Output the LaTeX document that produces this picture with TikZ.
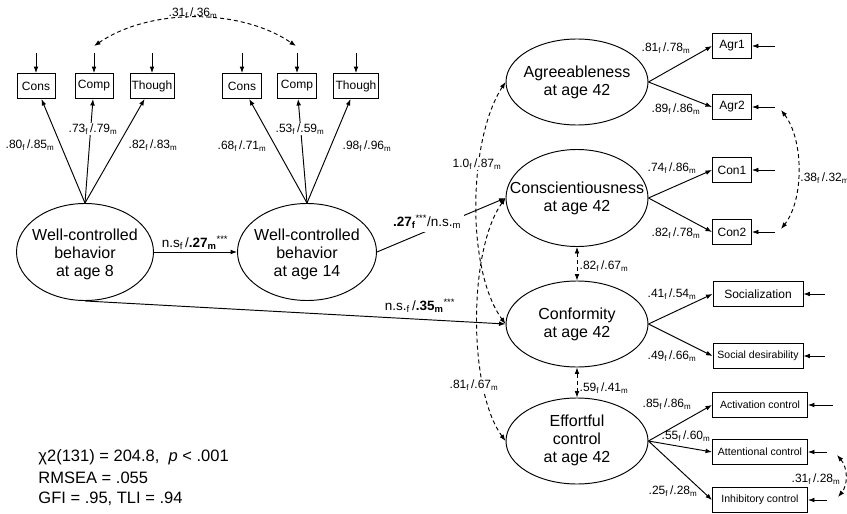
\documentclass[tikz,border=0pt]{standalone}
\usepackage{fontspec}
\setmainfont{Liberation Sans}
\usetikzlibrary{shapes.geometric,arrows.meta}
\newcommand\lfm[2]{#1\textsubscript{f}\,/#2\textsubscript{m}}
\begin{document}
\begin{tikzpicture}[x=1pt,y=-1pt,line width=0.95pt,
  >={Latex[length=6.5pt,width=4.8pt]},
  ell/.style={draw, ellipse, inner sep=0pt, minimum width=142pt, minimum height=86pt},
  elltext/.style={align=center, font=\fontsize{16}{18}\selectfont, inner sep=0pt},
  ind/.style={draw, rectangle, inner sep=0pt, minimum height=25pt, font=\fontsize{12}{14}\selectfont},
  indsm/.style={ind, font=\fontsize{10.5}{12}\selectfont},
  lab/.style={font=\fontsize{12}{14}\selectfont, inner sep=1pt},
  wlab/.style={lab, fill=white},
  plab/.style={font=\fontsize{13.5}{15}\selectfont, inner sep=1pt},
  cor/.style={<->, dash pattern=on 4pt off 3pt},
  stat/.style={font=\fontsize{16.5}{20}\selectfont, inner sep=0pt, anchor=base west}]
\useasboundingbox (0,0) rectangle (847,514);

% latent ellipses
\node[ell, minimum width=137pt, minimum height=97pt] (w8) at (85,252) {};
\node[elltext] (w8t) at (85,254) {Well-controlled\\behavior\\at age 8};
\node[ell, minimum width=139pt, minimum height=97pt] (w14) at (307,252) {};
\node[elltext] (w14t) at (307,254) {Well-controlled\\behavior\\at age 14};
\node[ell] (agr) at (577,82) {};
\node[elltext] (agrt) at (577,82) {Agreeableness\\at age 42};
\node[ell, minimum height=97pt] (consc) at (577,198) {};
\node[elltext] (consct) at (577,198) {Conscientiousness\\at age 42};
\node[ell] (conf) at (577,324) {};
\node[elltext] (conft) at (577,324) {Conformity\\at age 42};
\node[ell] (eff) at (577,441) {};
\node[elltext] (efft) at (577,440) {Effortful\\control\\at age 42};

% indicators top
\node[ind, minimum width=38pt] (cons1) at (36,86) {Cons};
\node[ind, minimum width=38pt] (comp1) at (94,86) {Comp};
\node[ind, minimum width=44pt] (though1) at (152,86) {Though};
\node[ind, minimum width=39pt] (cons2) at (242,86) {Cons};
\node[ind, minimum width=39pt] (comp2) at (297,86) {Comp};
\node[ind, minimum width=45pt] (though2) at (356,86) {Though};

% indicators right
\node[ind, minimum width=39pt] (agr1) at (732,46) {Agr1};
\node[ind, minimum width=39pt] (agr2) at (732,107) {Agr2};
\node[ind, minimum width=39pt] (con1) at (732,170) {Con1};
\node[ind, minimum width=39pt] (con2) at (732,232) {Con2};
\node[ind, minimum width=90pt] (soc) at (758,294) {Socialization};
\node[indsm, minimum width=90pt] (sdes) at (758,356) {Social desirability};
\node[indsm, minimum width=95pt] (act) at (760,405) {Activation control};
\node[indsm, minimum width=95pt] (att) at (760,452) {Attentional control};
\node[indsm, minimum width=95pt] (inh) at (760,500) {Inhibitory control};

% error arrows
\coordinate (ecs1) at (36,53);  \draw[->] (ecs1) -- (cons1);
\coordinate (ecp1) at (94,53);  \draw[->] (ecp1) -- (comp1);
\coordinate (eth1) at (152,53); \draw[->] (eth1) -- (though1);
\coordinate (ecs2) at (242,53); \draw[->] (ecs2) -- (cons2);
\coordinate (ecp2) at (297,53); \draw[->] (ecp2) -- (comp2);
\coordinate (eth2) at (356,53); \draw[->] (eth2) -- (though2);
\coordinate (ea1) at (775,46);  \draw[->] (ea1) -- (agr1);
\coordinate (ea2) at (775,107); \draw[->] (ea2) -- (agr2);
\coordinate (ec1) at (775,170); \draw[->] (ec1) -- (con1);
\coordinate (ec2) at (775,232); \draw[->] (ec2) -- (con2);
\coordinate (eso) at (825,294); \draw[->] (eso) -- (soc);
\coordinate (esd) at (825,356); \draw[->] (esd) -- (sdes);
\coordinate (eac) at (833,405); \draw[->] (eac) -- (act);
\coordinate (eat) at (827,452); \draw[->] (eat) -- (att);
\coordinate (ein) at (827,500); \draw[->] (ein) -- (inh);

% loadings top
\draw[->] (w8.north) -- (cons1);
\draw[->] (w8.north) -- (comp1);
\draw[->] (w8.north) -- (though1);
\draw[->] (w14.north) -- (cons2);
\draw[->] (w14.north) -- (comp2);
\draw[->] (w14.north) -- (though2);
\node[lab] (l1) at (30,145) {\lfm{.80}{.85}};
\node[wlab] (l2) at (93,129) {\lfm{.73}{.79}};
\node[lab] (l3) at (153,145) {\lfm{.82}{.83}};
\node[lab] (l4) at (242,146) {\lfm{.68}{.71}};
\node[wlab] (l5) at (300,129) {\lfm{.53}{.59}};
\node[lab] (l6) at (367,146) {\lfm{.98}{.96}};

% loadings right
\draw[->] (agr.east) -- (agr1.west);
\draw[->] (agr.east) -- (agr2.west);
\draw[->] (consc.east) -- (con1.west);
\draw[->] (consc.east) -- (con2.west);
\draw[->] (conf.east) -- (soc.west);
\draw[->] (conf.east) -- (sdes.west);
\draw[->] (eff.east) -- (act.west);
\draw[->] (eff.east) -- (att.west);
\draw[->] (eff.east) -- (inh.west);
\node[lab] (l7) at (666,48) {\lfm{.81}{.78}};
\node[lab] (l8) at (676,109) {\lfm{.89}{.86}};
\node[lab] (l9) at (672,168) {\lfm{.74}{.86}};
\node[lab] (l10) at (676,233) {\lfm{.82}{.78}};
\node[lab] (l11) at (672,294) {\lfm{.41}{.54}};
\node[lab] (l12) at (672,356) {\lfm{.49}{.66}};
\node[lab] (l13) at (667,404) {\lfm{.85}{.86}};
\node[lab] (l14) at (686,436) {\lfm{.55}{.60}};
\node[lab] (l15) at (673,491) {\lfm{.25}{.28}};

% structural paths
\draw[->] (w8.east) -- (w14.west);
\node[plab] (p1) at (195,243) {n.s\textsubscript{f}\,/\textbf{.27}\textsubscript{\textbf{m}}\textsuperscript{***}};
\draw[->] (w14.east) -- (consc.west);
\node[plab, fill=white, inner sep=3pt] (p2) at (427,222) {\textbf{.27}\textsubscript{\textbf{f}}\textsuperscript{***}/n.s.\textsubscript{m}};
\draw[->] (w8.south) -- (conf.west);
\node[plab] (p3) at (420,306) {n.s.\textsubscript{f}\,/\textbf{.35}\textsubscript{\textbf{m}}\textsuperscript{***}};

% correlations
\coordinate (c1a) at (94,46);
\coordinate (c1b) at (296,46);
\draw[cor] (c1a) .. controls (150,8) and (240,8) .. (c1b);
\node[lab] (k1) at (193,13) {\lfm{.31}{.36}};
\coordinate (c2a) at (781,110);
\coordinate (c2b) at (781,229);
\draw[cor] (c2a) .. controls (804,140) and (804,200) .. (c2b);
\node[lab, anchor=west] (k2) at (799,178) {\lfm{.38}{.32}};
\coordinate (c3a) at (837,455);
\coordinate (c3b) at (838,497);
\draw[cor] (c3a) .. controls (848,468) and (848,485) .. (c3b);
\node[lab] (k3) at (816,479) {\lfm{.31}{.28}};

\draw[cor] (agr.west) .. controls (468,140) and (466,270) .. (conf.west);
\draw[cor] (consc.west) .. controls (468,250) and (468,390) .. (eff.west);
\node[wlab] (k4) at (477,164) {\lfm{1.0}{.87}};
\node[wlab] (k5) at (474,385) {\lfm{.81}{.67}};
\draw[cor] (consc.south) -- (conf.north);
\draw[cor] (conf.south) -- (eff.north);
\node[lab] (k6) at (604,266) {\lfm{.82}{.67}};
\node[lab] (k7) at (604,388) {\lfm{.59}{.41}};

% fit statistics
\node[stat] (st1) at (38,461) {χ2(131) = 204.8,\ \ \textit{p} < .001};
\node[stat] (st2) at (38,483) {RMSEA = .055};
\node[stat] (st3) at (38,503) {GFI = .95, TLI = .94};
\end{tikzpicture}
\end{document}
